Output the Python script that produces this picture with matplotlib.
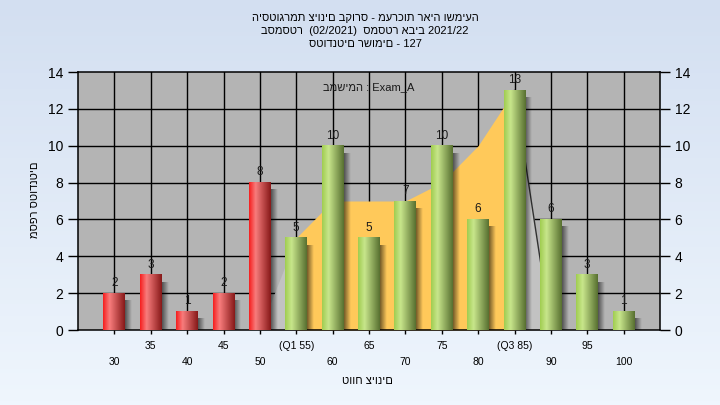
import numpy as np
import matplotlib
matplotlib.use('Agg')
import matplotlib.pyplot as plt
from matplotlib.transforms import blended_transform_factory

plt.rcParams['font.family'] = ['Liberation Sans', 'DejaVu Sans']

# data
categories = ['30', '35', '40', '45', '50', '(Q1 55)', '60', '65', '70', '75',
              '80', '(Q3 85)', '90', '95', '100']
counts = [2, 3, 1, 2, 8, 5, 10, 5, 7, 10, 6, 13, 6, 3, 1]
iqr_area = [0, 0, 0, 0, 0, 5, 7, 7, 7, 8, 10, 13, 0, 0, 0]
n_fail = 5
q1_idx, q3_idx = 5, 11

title = ['היסטוגרמת ציונים בקורס - מערכות ראיה ושמיעה',
         'בסמסטר  (02/2021)  סמסטר אביב 2021/22',
         'סטודנטים רשומים - 127']
task_label = 'במשימה : Exam_A'
ylabel = 'מספר סטודנטים'
xlabel = 'טווח ציונים'


def ramp(stops, n=64):
    t = np.linspace(0, 1, n)
    pos = [s[0] for s in stops]
    out = np.zeros((1, n, 3))
    for c in range(3):
        out[0, :, c] = np.interp(t, pos, [s[1][c] / 255 for s in stops])
    return out


red_grad = ramp([(0, (245, 30, 30)), (0.3, (248, 125, 125)), (1, (135, 25, 25))])
green_grad = ramp([(0, (160, 205, 80)), (0.3, (200, 230, 140)), (1, (88, 112, 48))])

fig = plt.figure(figsize=(7.2, 4.05), dpi=100)

# background gradient
bg = fig.add_axes([0, 0, 1, 1], zorder=-10)
top_c = np.array([211, 223, 241]) / 255
bot_c = np.array([239, 246, 253]) / 255
t = np.linspace(0, 1, 100)[:, None, None]
bg.imshow(top_c * (1 - t) + bot_c * t, aspect='auto', extent=[0, 1, 0, 1])
bg.axis('off')

ax = fig.add_axes([78 / 720, 1 - 330 / 405, 582 / 720, 258 / 405])
ax.set_facecolor('#b4b4b4')
x = np.arange(1, len(counts) + 1)

# grid
for yv in range(2, 14, 2):
    ax.axhline(yv, color='black', lw=1.0, zorder=1)
for xv in x:
    ax.axvline(xv, color='black', lw=1.0, zorder=1)

# IQR area
xa = np.array(x, dtype=float)
ya = np.array(iqr_area, dtype=float)
ax.fill_between(xa[q1_idx - 1:q1_idx + 1], 0, ya[q1_idx - 1:q1_idx + 1],
                color='#c2c2c2', lw=0, zorder=2)
ax.fill_between(xa[q1_idx:q3_idx + 1], 0, ya[q1_idx:q3_idx + 1],
                color='#ffc95a', lw=0, zorder=2)
ax.fill_between(xa[q3_idx:q3_idx + 2], 0, ya[q3_idx:q3_idx + 2],
                color='#c2c2c2', lw=0, zorder=2)
ax.plot(xa[q3_idx:q3_idx + 2], ya[q3_idx:q3_idx + 2], color='#303030', lw=1, zorder=2.1)

# bars with shading and shadow
w = 0.6
sh_w = 0.17
shadow = np.zeros((1, 32, 4))
shadow[0, :, 3] = np.linspace(0.55, 0.0, 32)
for i, (xi, h) in enumerate(zip(x, counts)):
    x0, x1 = xi - w / 2, xi + w / 2
    ax.imshow(shadow, extent=[x1, x1 + sh_w, 0, max(h - 0.4, 0)], aspect='auto',
              zorder=3, interpolation='bilinear')
    g = red_grad if i < n_fail else green_grad
    ax.imshow(g, extent=[x0, x1, 0, h], aspect='auto', zorder=4, interpolation='bilinear')
    ax.annotate(str(h), (xi, h), xytext=(0, 3), textcoords='offset points',
                ha='center', va='bottom', fontsize=8.5, color='#1a1a1a', zorder=5)

ax.set_xlim(0, len(counts) + 1)
ax.set_ylim(0, 14)
ax.set_yticks(range(0, 15, 2))
ax.tick_params(axis='y', which='both', direction='out', length=7, labelsize=10,
               left=True, right=True, labelleft=True, labelright=True, width=1)
ax.set_xticks(x)
ax.set_xticklabels([])
ax.tick_params(axis='x', direction='out', length=3, width=1)
for s in ax.spines.values():
    s.set_linewidth(1.1)

trans = blended_transform_factory(ax.transData, ax.transAxes)
for i, lab in enumerate(categories):
    yy = -16 / 258 if i % 2 == 1 else -32 / 258
    ax.text(x[i], yy, lab, transform=trans, ha='center', va='center', fontsize=7.5)

ax.text(0.5, 0.94, task_label, transform=ax.transAxes, ha='center', va='center',
        fontsize=8, color='#1a1a1a')

fig.text(367 / 720, 1 - 381 / 405, xlabel, fontsize=8, ha='center', va='center')
fig.text(35 / 720, 1 - 200 / 405, ylabel, fontsize=8, ha='center', va='center', rotation=90)
for k, line in enumerate(title):
    fig.text(365 / 720, 1 - (18 + 13 * k) / 405, line, fontsize=8, ha='center', va='center')

fig.savefig('out.png', dpi=100)
